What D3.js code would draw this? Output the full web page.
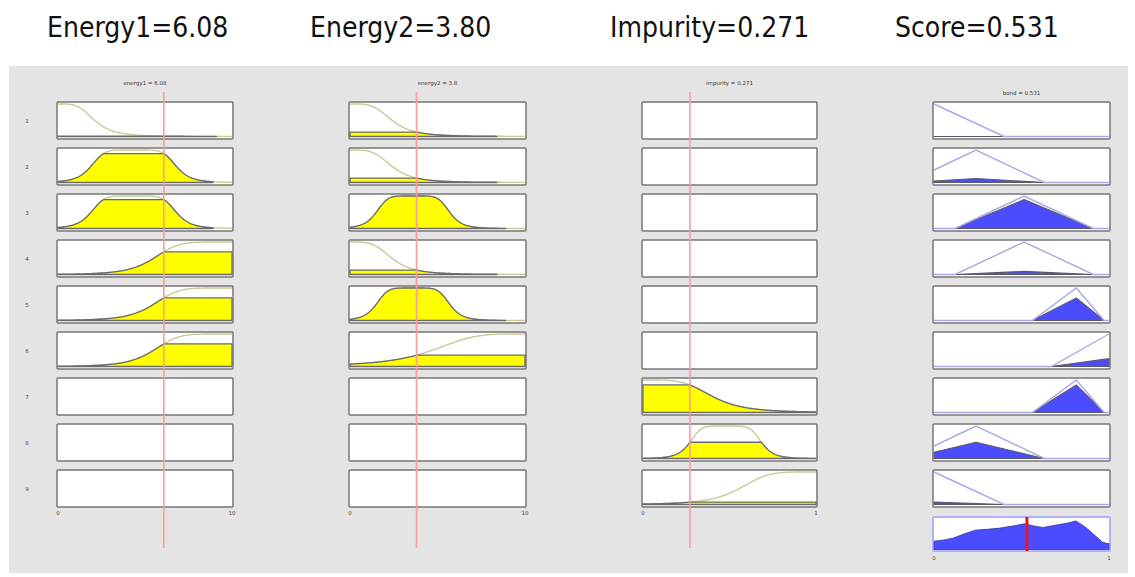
<!DOCTYPE html>
<html>
<head>
<meta charset="utf-8">
<script src="https://cdn.jsdelivr.net/npm/d3@7"></script>
<style>
  html, body { margin: 0; padding: 0; background: #fff; overflow: hidden; }
  text { font-family: "DejaVu Sans", sans-serif; }
</style>
</head>
<body>
<svg id="chart" width="1135" height="577"></svg>
<script>
// ---- data ----------------------------------------------------------------
const headlines = ["Energy1=6.08", "Energy2=3.80", "Impurity=0.271", "Score=0.531"];
const variableNames = ["energy1", "energy2", "impurity", "bond"];
const variableRanges = [[0, 10], [0, 10], [0, 1], [0, 1]];
const inputValues = [6.08, 3.8, 0.271];
const outputValue = 0.531;
const tickLabels = [["0", "10"], ["0", "10"], ["0", "1"], ["0", "1"]];
const ruleNumbers = ["1", "2", "3", "4", "5", "6", "7", "8", "9"];

// generalized bell membership functions: a (width), b (slope), c (centre), drawn support lo..hi
const energy1MFs = [
  { a: 2.1,  b: 2, c: 0,    lo: 0, hi: 9.1 },
  { a: 2.45, b: 3, c: 4.35, lo: 0, hi: 8.9 },
  { a: 4.5,  b: 3, c: 10,   lo: 0, hi: 10 }
];
const energy2MFs = [
  { a: 2.4, b: 2, c: 0,   lo: 0, hi: 8.4 },
  { a: 2.1, b: 3, c: 3.6, lo: 0, hi: 8.9 },
  { a: 5.3, b: 2, c: 10,  lo: 0, hi: 10 }
];
const impurityMFs = [
  { a: 0.4,   b: 2.2, c: 0,     lo: 0, hi: 1 },
  { a: 0.207, b: 3,   c: 0.478, lo: 0, hi: 1 },
  { a: 0.44,  b: 2.5, c: 1,     lo: 0, hi: 1 }
];
// triangular output membership functions [left, peak, right]
const bondMFs = [
  [-0.4, 0, 0.4],
  [-0.15, 0.24, 0.63],
  [0.12, 0.515, 0.91],
  [0.562, 0.813, 0.972],
  [0.67, 1, 1.33]
];

// rule base: membership function index used by each rule (-1 = not used)
const ruleEnergy1  = [0, 1, 1, 2, 2, 2, -1, -1, -1];
const ruleEnergy2  = [0, 0, 1, 0, 1, 2, -1, -1, -1];
const ruleImpurity = [-1, -1, -1, -1, -1, -1, 0, 1, 2];
const ruleBond     = [0, 1, 2, 2, 3, 4, 3, 1, 0];

// aggregated output set
const aggregateX = [0, 0.06, 0.113, 0.17, 0.236, 0.3, 0.377, 0.45, 0.519, 0.57, 0.623, 0.698, 0.76, 0.811, 0.868, 0.92, 0.962, 0.985, 1];
const aggregateY = [0.27, 0.31, 0.375, 0.5, 0.625, 0.65, 0.69, 0.76, 0.83, 0.76, 0.71, 0.79, 0.85, 0.92, 0.71, 0.45, 0.24, 0.2, 0.19];

// ---- helpers -------------------------------------------------------------
const gbell = (p) => (x) => 1 / (1 + Math.pow(Math.abs((x - p.c) / p.a), 2 * p.b));
const tri = (t) => (x) => {
  const [l, m, r] = t;
  if (x <= l || x >= r) return (x === m) ? 1 : 0;
  return x <= m ? (m === l ? 1 : (x - l) / (m - l)) : (r === m ? 1 : (r - x) / (r - m));
};
const inputMFs = [energy1MFs, energy2MFs, impurityMFs];
const ruleInputs = [ruleEnergy1, ruleEnergy2, ruleImpurity];

// membership degree of each input in every one of its sets
const inputLevels = inputMFs.map((set, k) => set.map(p => gbell(p)(inputValues[k])));
// rule firing strength (product of the antecedent degrees)
const ruleStrength = ruleNumbers.map((_, r) => {
  let s = 1;
  ruleInputs.forEach((ri, k) => { if (ri[r] >= 0) s *= inputLevels[k][ri[r]]; });
  return s;
});

// ---- layout --------------------------------------------------------------
const svg = d3.select("#chart");
const colX = [[57, 233], [349, 526], [642, 817], [933, 1110]];
const rowTop = (r) => 102 + 46 * r;
const boxH = 37;

// gray figure panel
svg.append("rect").attr("x", 9).attr("y", 66).attr("width", 1119).attr("height", 507)
  .attr("fill", "#e4e4e4");

// headlines
const headX = [47, 310, 610, 895];
headlines.forEach((t, i) => {
  svg.append("text").attr("x", headX[i]).attr("y", 37)
    .attr("font-size", 28).attr("font-stretch", "condensed")
    .style("font-family", "'DejaVu Sans Condensed', 'DejaVu Sans', sans-serif")
    .attr("fill", "#111").text(t);
});

const xScales = colX.map((cx, i) => d3.scaleLinear().domain(variableRanges[i]).range([cx[0] + 1, cx[1] - 1]));
const yScaleFor = (top, h) => d3.scaleLinear().domain([0, 1]).range([top + h - 2.5, top + 2]);

// column titles
variableNames.forEach((n, i) => {
  const val = i < 3 ? inputValues[i] : outputValue;
  svg.append("text").attr("x", (colX[i][0] + colX[i][1]) / 2).attr("y", i < 3 ? 85 : 95)
    .attr("text-anchor", "middle").attr("font-size", 5.5).attr("fill", "#333")
    .text(`${n} = ${val}`);
});

// rule numbers
ruleNumbers.forEach((t, r) => {
  svg.append("text").attr("x", 27).attr("y", rowTop(r) + boxH / 2 + 2)
    .attr("text-anchor", "middle").attr("font-size", 5.5).attr("fill", "#444").text(t);
});

const drawBox = (x0, x1, top, h, stroke) =>
  svg.append("rect").attr("x", x0).attr("y", top).attr("width", x1 - x0).attr("height", h)
    .attr("fill", "#fff").attr("stroke", stroke).attr("stroke-width", 1.5).attr("rx", 1);

// input columns
inputMFs.forEach((set, k) => {
  const xs = xScales[k];
  const [d0, d1] = variableRanges[k];
  ruleNumbers.forEach((_, r) => {
    const top = rowTop(r);
    drawBox(colX[k][0], colX[k][1], top, boxH, "#777");
    const idx = ruleInputs[k][r];
    if (idx < 0) return;
    const p = set[idx];
    const mf = gbell(p);
    const level = inputLevels[k][idx];
    const ys = yScaleFor(top, boxH);
    const full = d3.range(0, 241).map(i => d0 + (d1 - d0) * i / 240);
    svg.append("path").datum(full)
      .attr("d", d3.line().x(d => xs(d)).y(d => ys(mf(d))))
      .attr("fill", "none").attr("stroke", "#c9c99a").attr("stroke-width", 1.4);
    const sup = d3.range(0, 241).map(i => p.lo + (p.hi - p.lo) * i / 240);
    svg.append("path").datum(sup)
      .attr("d", d3.area().x(d => xs(d)).y0(ys(0)).y1(d => ys(Math.min(mf(d), level))))
      .attr("fill", "#ffff00").attr("stroke", "#6a6a6a").attr("stroke-width", 1.3)
      .attr("stroke-linejoin", "round");
  });
});

// output column
{
  const xs = xScales[3];
  ruleNumbers.forEach((_, r) => {
    const top = rowTop(r);
    drawBox(colX[3][0], colX[3][1], top, boxH, "#777");
    const t = bondMFs[ruleBond[r]];
    const mf = tri(t);
    const ys = yScaleFor(top, boxH);
    const linePts = Array.from(new Set([0, 1, ...t].filter(v => v >= 0 && v <= 1).sort((a, b) => a - b)));
    const lo = Math.max(0, t[0]), hi = Math.min(1, t[2]);
    const fillPts = Array.from(new Set([lo, ...t.filter(v => v > lo && v < hi), hi]));
    svg.append("path").datum(fillPts)
      .attr("d", d3.area().x(d => xs(d)).y0(ys(0)).y1(d => ys(ruleStrength[r] * mf(d))))
      .attr("fill", "#4b4bff").attr("stroke", "#5a5a6a").attr("stroke-width", 1.1)
      .attr("stroke-linejoin", "round");
    svg.append("path").datum(linePts)
      .attr("d", d3.line().x(d => xs(d)).y(d => ys(mf(d))))
      .attr("fill", "none").attr("stroke", "#a9a9e6").attr("stroke-width", 1.4);
  });

  // aggregated output and its centroid
  const top = 517, h = 34;
  drawBox(colX[3][0], colX[3][1], top, h, "#9d9dff");
  const ys = d3.scaleLinear().domain([0, 1]).range([top + h - 1.5, top + 1.5]);
  svg.append("path").datum(aggregateX.map((x, i) => [x, aggregateY[i]]))
    .attr("d", d3.area().x(d => xs(d[0])).y0(ys(0)).y1(d => ys(d[1])))
    .attr("fill", "#4b4bff").attr("stroke", "#3a3a9a").attr("stroke-width", 0.8);
  svg.append("line").attr("x1", xs(outputValue)).attr("x2", xs(outputValue))
    .attr("y1", top).attr("y2", top + h)
    .attr("stroke", "#e8141e").attr("stroke-width", 3);
}

// input value markers
inputValues.forEach((v, k) => {
  const x = xScales[k](v);
  svg.append("line").attr("x1", x).attr("x2", x).attr("y1", 92).attr("y2", 548)
    .attr("stroke", "#ff9a9a").attr("stroke-width", 1.6);
});

// range tick labels
tickLabels.forEach((tl, i) => {
  const y = i < 3 ? 515 : 560;
  tl.forEach((t, j) => {
    svg.append("text").attr("x", xScales[i](variableRanges[i][j])).attr("y", y)
      .attr("text-anchor", "middle").attr("font-size", 5.5).attr("fill", "#444").text(t);
  });
});
</script>
</body>
</html>
